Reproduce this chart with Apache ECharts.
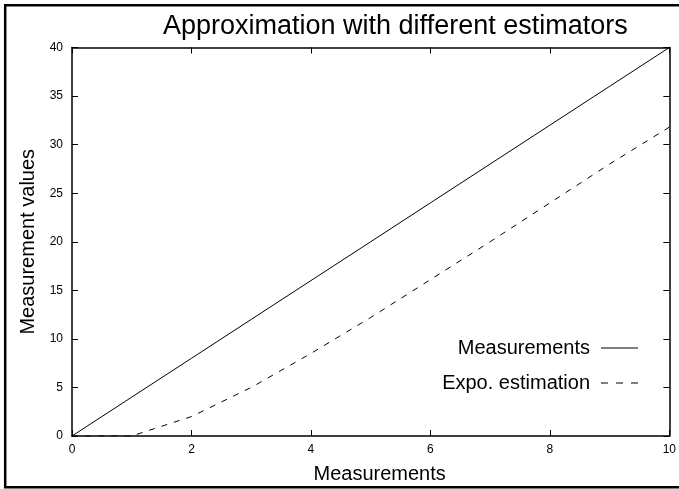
<!DOCTYPE html>
<html>
<head>
<meta charset="utf-8">
<script src="https://cdn.jsdelivr.net/npm/echarts@6/dist/echarts.min.js"></script>
<style>
html,body{margin:0;padding:0;background:#fff;}
#chart{width:679px;height:489px;}
</style>
</head>
<body>
<div id="chart"></div>
<script>
var xValues = [0, 1, 2, 3, 4, 5, 6, 7, 8, 9, 10];
var measurements = [0, 4, 8, 12, 16, 20, 24, 28, 32, 36, 40];
var expoEstimation = [0, 0, 2, 5, 8.5, 12.2, 16.1, 20, 24, 28, 31.8];
var seriesNames = ['Measurements', 'Expo. estimation'];
var titleText = 'Approximation with different estimators';
var xName = 'Measurements';
var yName = 'Measurement values';

var font = 'Liberation Sans, Arial, sans-serif';
var chart = echarts.init(document.getElementById('chart'), null, {renderer: 'canvas'});

function pairs(ys) { return xValues.map(function (x, i) { return [x, ys[i]]; }); }

var axisCommon = {
  axisLine: {show: true, onZero: false, lineStyle: {color: '#000', width: 1.5}},
  axisTick: {show: true, inside: true, length: 6, lineStyle: {color: '#000', width: 1}},
  splitLine: {show: false}
};

chart.setOption({
  animation: false,
  backgroundColor: '#fff',
  title: {
    text: titleText,
    left: 158,
    top: 8,
    textStyle: {fontFamily: font, fontSize: 27, fontWeight: 'normal', color: '#000'}
  },
  graphic: [{
    type: 'rect',
    shape: {x: 5.2, y: 5.2, width: 700, height: 482},
    style: {fill: 'none', stroke: '#000', lineWidth: 2.5},
    silent: true
  }],
  legend: {
    orient: 'vertical',
    right: 36,
    top: 333,
    align: 'right',
    itemWidth: 37,
    itemHeight: 1,
    itemGap: 15,
    itemStyle: {color: '#000', borderWidth: 0},
    textStyle: {fontFamily: font, fontSize: 20, lineHeight: 20, color: '#000', padding: [0, 6, 0, 0]},
    data: [
      {name: seriesNames[0], icon: 'path://M0,0h37v1h-37z'},
      {name: seriesNames[1], icon: 'path://M0,0h7v1h-7z M15,0h7v1h-7z M30,0h7v1h-7z'}
    ]
  },
  grid: {left: 72, right: 8.5, top: 47.5, bottom: 50.5, containLabel: false},
  xAxis: [
    Object.assign({}, axisCommon, {
      type: 'value', min: 0, max: 10, interval: 2, position: 'bottom',
      name: xName, nameLocation: 'middle', nameGap: 28,
      nameTextStyle: {fontFamily: font, fontSize: 20, color: '#000', padding: [0, 0, 0, 18]},
      axisLabel: {fontFamily: font, fontSize: 12, color: '#000', margin: 8}
    }),
    Object.assign({}, axisCommon, {
      type: 'value', min: 0, max: 10, interval: 2, position: 'top',
      axisLabel: {show: false}
    })
  ],
  yAxis: [
    Object.assign({}, axisCommon, {
      type: 'value', min: 0, max: 40, interval: 5, position: 'left',
      name: yName, nameLocation: 'middle', nameGap: 34, nameRotate: 90,
      nameTextStyle: {fontFamily: font, fontSize: 20, color: '#000'},
      axisLabel: {fontFamily: font, fontSize: 12, color: '#000', margin: 9}
    }),
    Object.assign({}, axisCommon, {
      type: 'value', min: 0, max: 40, interval: 5, position: 'right',
      axisLabel: {show: false}
    })
  ],
  series: [
    {
      name: seriesNames[0], type: 'line', data: pairs(measurements),
      symbol: 'none', lineStyle: {color: '#000', width: 1}, itemStyle: {color: '#000'}
    },
    {
      name: seriesNames[1], type: 'line', data: pairs(expoEstimation),
      symbol: 'none', lineStyle: {color: '#000', width: 1, type: [6, 7]}, itemStyle: {color: '#000'}
    }
  ]
});
</script>
</body>
</html>
